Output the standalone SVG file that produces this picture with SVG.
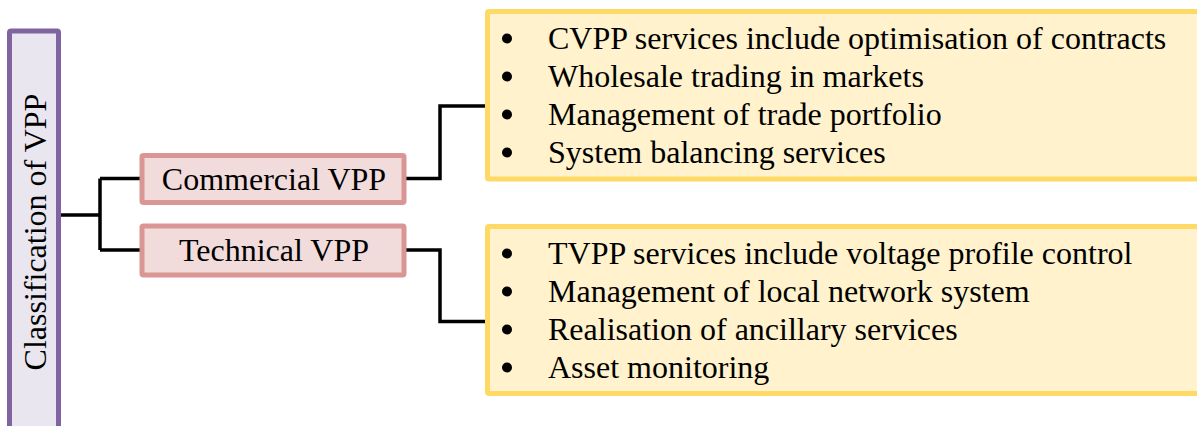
<svg xmlns="http://www.w3.org/2000/svg" width="1197" height="426" viewBox="0 0 1197 426">
<style>
text{font-family:"Liberation Serif","Times New Roman",serif;fill:#000;font-size:32px;}
.conn{fill:none;stroke:#000;stroke-width:3.5;}
.purple{fill:#EAE6F0;stroke:#8064A2;stroke-width:5;}
.pink{fill:#F2DCDB;stroke:#D99694;stroke-width:5;}
.yellow{fill:#FFF2CC;stroke:#FFD966;stroke-width:5;}
.dot{fill:#000;}
</style>
<rect width="1197" height="426" fill="#fff"/>
<g id="connectors">
<path class="conn" d="M60,215 H100 M100,178.5 V250 M100,178.5 H142 M100,250 H142"/>
<path class="conn" d="M404,178.5 H440 V106 H488"/>
<path class="conn" d="M404,250 H440 V321.5 H488"/>
</g>
<g id="root">
<rect class="purple" x="9.5" y="31" width="49" height="420" rx="1.5"/>
<text transform="translate(46,232) rotate(-90)" text-anchor="middle">Classification of VPP</text>
</g>
<g id="commercial">
<rect class="pink" x="142" y="155.5" width="262" height="47" rx="1.5"/>
<text x="274" y="190" text-anchor="middle">Commercial VPP</text>
</g>
<g id="technical">
<rect class="pink" x="142" y="226" width="262" height="49" rx="1.5"/>
<text x="274" y="261" text-anchor="middle">Technical VPP</text>
</g>
<g id="cvpp-services">
<rect class="yellow" x="487.5" y="11.5" width="720" height="167.5" rx="1.5"/>
<circle class="dot" cx="507" cy="38.5" r="5"/><text x="548" y="48.5">CVPP services include optimisation of contracts</text>
<circle class="dot" cx="507" cy="76.5" r="5"/><text x="548" y="86.5">Wholesale trading in markets</text>
<circle class="dot" cx="507" cy="114.5" r="5"/><text x="548" y="124.5">Management of trade portfolio</text>
<circle class="dot" cx="507" cy="152.5" r="5"/><text x="548" y="162.5">System balancing services</text>
</g>
<g id="tvpp-services">
<rect class="yellow" x="487.5" y="226.5" width="720" height="167" rx="1.5"/>
<circle class="dot" cx="507" cy="253.5" r="5"/><text x="548" y="263.5">TVPP services include voltage profile control</text>
<circle class="dot" cx="507" cy="291.5" r="5"/><text x="548" y="301.5">Management of local network system</text>
<circle class="dot" cx="507" cy="329.5" r="5"/><text x="548" y="339.5">Realisation of ancillary services</text>
<circle class="dot" cx="507" cy="367.5" r="5"/><text x="548" y="377.5">Asset monitoring</text>
</g>
</svg>
